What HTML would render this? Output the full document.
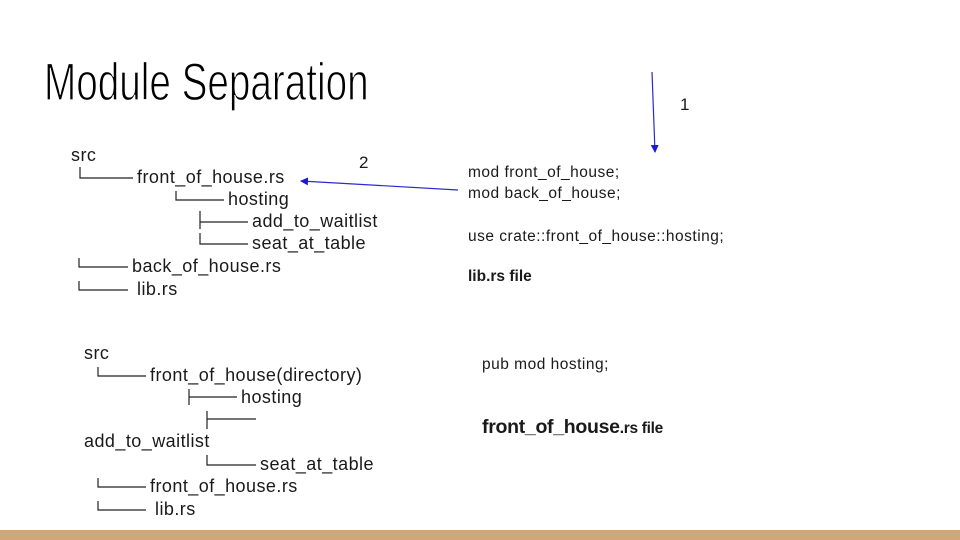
<!DOCTYPE html>
<html><head><meta charset="utf-8"><style>
html,body{margin:0;padding:0;background:#fff}
svg{display:block}
text{font-family:"Liberation Sans",sans-serif;fill:#1a1a1a}
</style></head><body>
<svg width="960" height="540" viewBox="0 0 960 540" xmlns="http://www.w3.org/2000/svg">
<defs>
<marker id="ah" markerWidth="8" markerHeight="8" refX="7" refY="4" orient="auto" markerUnits="userSpaceOnUse">
<path d="M0,0 L8,4 L0,8 Z" fill="#1a1ad0"/></marker>
</defs>
<text x="44" y="100" font-size="53" transform="translate(44 0) scale(0.73 1) translate(-44 0)" style="fill:#000;stroke:#fff;stroke-width:1.2;paint-order:normal">Module Separation</text>

<g font-size="18" letter-spacing="0.45">
<text x="71" y="161">src</text>
<text x="137" y="183">front_of_house.rs</text>
<text x="228" y="205">hosting</text>
<text x="252" y="227">add_to_waitlist</text>
<text x="252" y="249">seat_at_table</text>
<text x="132" y="272">back_of_house.rs</text>
<text x="137" y="295">lib.rs</text>

<text x="84" y="359">src</text>
<text x="150" y="381">front_of_house(directory)</text>
<text x="241" y="403">hosting</text>
<text x="84" y="447">add_to_waitlist</text>
<text x="260" y="470">seat_at_table</text>
<text x="150" y="492">front_of_house.rs</text>
<text x="155" y="515">lib.rs</text>
</g>

<g stroke="#222" stroke-width="1.2" fill="none">
<path d="M80 167V178H133"/>
<path d="M176 191V200H224"/>
<path d="M200 211V229M200 222H248"/>
<path d="M200 233V244H248"/>
<path d="M79 258V267H128"/>
<path d="M79 281V290H128"/>
<path d="M98 367V376H146"/>
<path d="M189 389V405M189 397H237"/>
<path d="M207 411V429M207 419H256"/>
<path d="M207 455V465H256"/>
<path d="M98 478V487H146"/>
<path d="M98 501V510H146"/>
</g>

<g font-size="15.5" letter-spacing="0.5">
<text x="468" y="177">mod front_of_house;</text>
<text x="468" y="198">mod back_of_house;</text>
<text x="468" y="241">use crate::front_of_house::hosting;</text>
<text x="468" y="281" font-weight="bold" letter-spacing="0">lib.rs  file</text>
<text x="482" y="369">pub mod hosting;</text>
<text x="482" y="433" font-weight="bold" letter-spacing="-0.3"><tspan font-size="19.5">front_of_house</tspan>.rs file</text>
</g>

<g font-size="17">
<text x="680" y="110">1</text>
<text x="359" y="168">2</text>
</g>
<line x1="652" y1="72" x2="655" y2="152" stroke="#2a2ad0" stroke-width="1.2" marker-end="url(#ah)"/>
<line x1="458" y1="190" x2="301" y2="181" stroke="#2a2ad0" stroke-width="1.2" marker-end="url(#ah)"/>

<rect x="0" y="530" width="960" height="10" fill="#cfa779"/>
</svg>
</body></html>
